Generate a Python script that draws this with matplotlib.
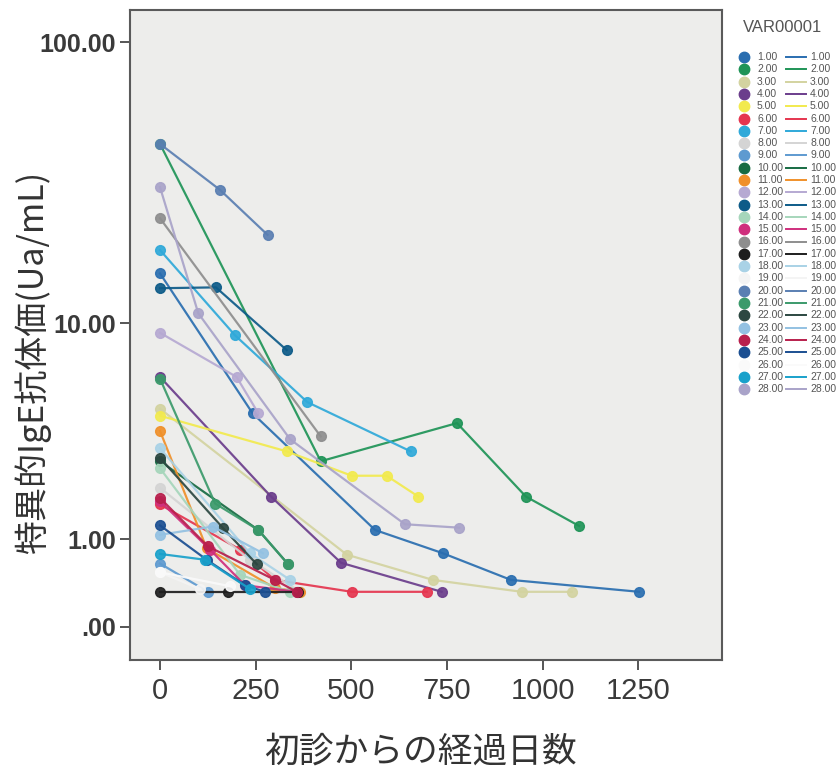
import numpy as np
import matplotlib
matplotlib.use('Agg')
import matplotlib.pyplot as plt
from matplotlib import font_manager
from matplotlib.lines import Line2D

W, H = 838, 782

# 28 patients: days since first visit / specific IgE (Ua/mL)
series_names = ["1.00", "2.00", "3.00", "4.00", "5.00", "6.00", "7.00",
                "8.00", "9.00", "10.00", "11.00", "12.00", "13.00", "14.00",
                "15.00", "16.00", "17.00", "18.00", "19.00", "20.00", "21.00",
                "22.00", "23.00", "24.00", "25.00", "26.00", "27.00", "28.00"]

days = [
    [0, 242, 562, 739, 917, 1252],
    [0, 420, 776, 956, 1095],
    [0, 488, 713, 945, 1076],
    [0, 290, 473, 736],
    [0, 331, 501, 592, 675],
    [0, 210, 300, 501, 697],
    [0, 196, 385, 655],
    [0, 235, 366],
    [0, 125],
    [0, 257, 335],
    [0, 122, 300, 366],
    [0, 200, 257],
    [0, 146, 331],
    [0, 209, 340],
    [0, 131, 222, 357],
    [0, 420],
    [0, 178, 361],
    [0, 235, 340],
    [0, 105],
    [0, 157, 281],
    [0, 144, 257, 335],
    [0, 165, 253],
    [0, 138, 269],
    [0, 125, 300, 357],
    [0, 122, 222, 274],
    [0, 183],
    [0, 118, 235],
    [0, 100, 340, 640, 782],
]

ige = [
    [15.3, 4.4, 1.15, 0.79, 0.45, 0.32],
    [44.3, 2.7, 4.0, 1.8, 1.22],
    [4.6, 0.77, 0.45, 0.32, 0.32],
    [6.2, 1.8, 0.66, 0.32],
    [4.3, 3.0, 2.3, 2.3, 1.8],
    [1.63, 0.84, 0.45, 0.32, 0.32],
    [18.6, 9.0, 4.9, 3.0],
    [2.0, 0.70, 0.32],
    [0.65, 0.32],
    [2.7, 1.15, 0.64],
    [3.7, 0.86, 0.36, 0.32],
    [9.2, 6.2, 4.4],
    [13.5, 13.6, 7.9],
    [2.5, 0.51, 0.32],
    [1.7, 0.84, 0.39, 0.32],
    [24.2, 3.5],
    [0.32, 0.32, 0.32],
    [3.1, 0.79, 0.45],
    [0.54, 0.35],
    [44.3, 30.5, 21.1],
    [6.1, 1.65, 1.15, 0.64],
    [2.8, 1.18, 0.64],
    [1.07, 1.21, 0.79],
    [1.77, 0.89, 0.45, 0.32],
    [1.23, 0.70, 0.39, 0.32],
    [0.54, 0.38],
    [0.78, 0.70, 0.35],
    [31.2, 10.9, 3.4, 1.25, 1.19],
]

colors = ['#2a6eb0', '#1f9457', '#d3d3a0', '#6b3d8c', '#f2ea4e', '#e5354f',
          '#2fa9d9', '#d4d4d4', '#5e9ad0', '#176b43', '#f0902a', '#b6a9d2',
          '#0d5b88', '#a6d6bb', '#cf2f7d', '#8e8e8e', '#1e1e1e', '#a9d2e6',
          '#f4f4f4', '#5a7fb2', '#3b9a6b', '#2c4741', '#93c1e2', '#b81f4c',
          '#1b4f92', '#fafafa', '#19a1cb', '#a9a3c9']

x_ticks = [0, 250, 500, 750, 1000, 1250]
y_ticks = [0, 1, 10, 100]
y_ticklabels = ['.00', '1.00', '10.00', '100.00']

installed = {f.name for f in font_manager.fontManager.ttflist}
narrow = 'Liberation Sans Narrow' if 'Liberation Sans Narrow' in installed else 'Liberation Sans'
cjk = ['Noto Sans CJK JP', 'DejaVu Sans']


# SPSS safe-log axis: log10(y + 1)
def fwd(y):
    with np.errstate(invalid='ignore', divide='ignore'):
        return np.log10(np.clip(np.asarray(y, dtype=float) + 1, 1e-9, None))


def inv(t):
    return 10 ** np.asarray(t, dtype=float) - 1


fig = plt.figure(figsize=(W / 100, H / 100), dpi=100)
fig.patch.set_facecolor('white')
ax = fig.add_axes([130 / W, 1 - 660 / H, 592 / W, 650 / H])
ax.set_facecolor('#ededeb')

for d, v, c in zip(days, ige, colors):
    ax.plot(d, v, '-o', color=c, lw=1.6, ms=7, mec=c, alpha=0.92)

ax.set_yscale('function', functions=(fwd, inv))
ax.set_ylim(-0.2295, 129.4)
ax.set_xlim(-78.4, 1468.5)
ax.set_yticks(y_ticks)
ax.set_yticklabels(y_ticklabels, fontfamily='Liberation Sans', fontweight='bold',
                   fontsize=18, color='#3a3a3a')
ax.set_xticks(x_ticks)
ax.set_xticklabels([str(t) for t in x_ticks], fontfamily=narrow, fontsize=21,
                   color='#3a3a3a')
ax.minorticks_off()
ax.tick_params(axis='both', direction='out', length=7, width=1.4, color='#555555')
ax.tick_params(axis='y', pad=3)
ax.tick_params(axis='x', pad=5)
for s in ax.spines.values():
    s.set_color('#5a5a5a')
    s.set_linewidth(1.5)

# axis titles
fig.text(33 / W, 1 - 362 / H, '特異的IgE抗体価(Ua/mL)', rotation=90, ha='center',
         va='center', fontsize=24.5, family=cjk, color='#333333')
fig.text(420 / W, 1 - 752 / H, '初診からの経過日数', ha='center', va='center',
         fontsize=25, family=cjk, color='#333333')

# legend (SPSS style: marker + label, line + label)
fig.text(783 / W, 1 - 28 / H, 'VAR00001', ha='center', va='center', fontsize=12,
         family='Liberation Sans', color='#555555')
for i, (name, c) in enumerate(zip(series_names, colors)):
    yy = 1 - (57 + i * 12.3) / H
    fig.add_artist(Line2D([744 / W], [yy], marker='o', ms=7.5, color=c, mec=c,
                          transform=fig.transFigure))
    fig.add_artist(Line2D([786 / W, 806 / W], [yy, yy], lw=1.4, color=c,
                          transform=fig.transFigure))
    fig.text(757 / W, yy, name, ha='left', va='center', fontsize=7.5,
             family=narrow, color='#555555')
    fig.text(810 / W, yy, name, ha='left', va='center', fontsize=7.5,
             family=narrow, color='#555555')

fig.savefig('out.png', dpi=100, facecolor='white')
